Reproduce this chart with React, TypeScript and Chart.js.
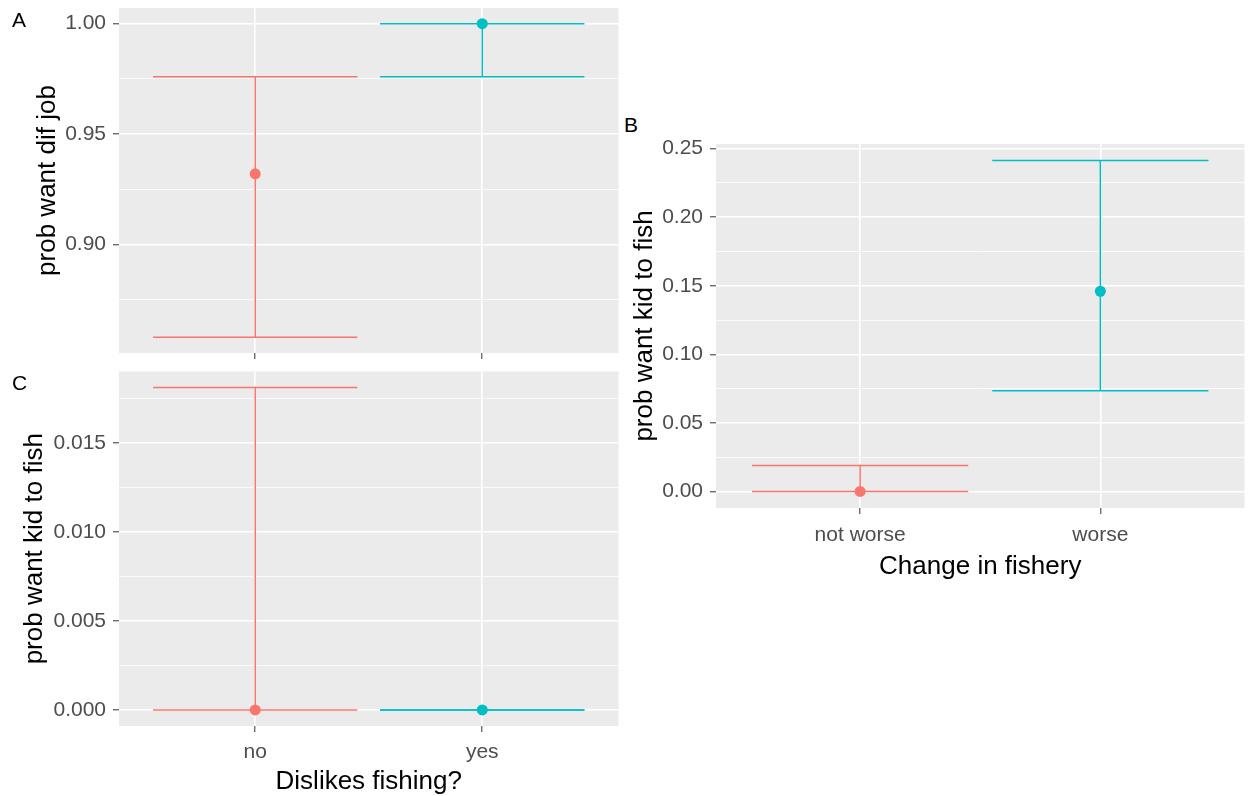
import React, { useEffect, useRef } from 'react';
import { Chart, registerables } from 'chart.js';

Chart.register(...registerables);

const RED = '#F8766D';
const TEAL = '#00BFC4';
const SERIES_COLORS = [RED, TEAL];

// ---------- Panel A : prob want dif job vs Dislikes fishing? ----------
const A_CATEGORIES = ['no', 'yes'];
const A_ESTIMATE = [0.932, 1.0];
const A_LOWER = [0.858, 0.976];
const A_UPPER = [0.976, 1.0];
const A_MAJOR_TICKS = [0.9, 0.95, 1.0];
const A_MINOR_TICKS = [0.875, 0.925, 0.975];
const A_TICK_LABELS = ['0.90', '0.95', '1.00'];

// ---------- Panel B : prob want kid to fish vs Change in fishery ----------
const B_CATEGORIES = ['not worse', 'worse'];
const B_ESTIMATE = [0.0, 0.146];
const B_LOWER = [0.0, 0.0735];
const B_UPPER = [0.0189, 0.2413];
const B_MAJOR_TICKS = [0.0, 0.05, 0.1, 0.15, 0.2, 0.25];
const B_MINOR_TICKS = [0.025, 0.075, 0.125, 0.175, 0.225];
const B_TICK_LABELS = ['0.00', '0.05', '0.10', '0.15', '0.20', '0.25'];

// ---------- Panel C : prob want kid to fish vs Dislikes fishing? ----------
const C_CATEGORIES = ['no', 'yes'];
const C_ESTIMATE = [0.0, 0.0];
const C_LOWER = [0.0, 0.0];
const C_UPPER = [0.0181, 0.0];
const C_MAJOR_TICKS = [0.0, 0.005, 0.01, 0.015];
const C_MINOR_TICKS = [0.0025, 0.0075, 0.0125, 0.0175];
const C_TICK_LABELS = ['0.000', '0.005', '0.010', '0.015'];

const FONT = "'Liberation Sans', Arial, sans-serif";
const TICK_SIZE = 21;
const TITLE_SIZE = 26;
const CAP_HALF = 0.45;
const X_EXPAND = 0.6;

const bgPlugin = {
  id: 'panelBg',
  beforeDraw(chart: any) {
    const { ctx, chartArea } = chart;
    if (!chartArea) return;
    ctx.save();
    ctx.fillStyle = '#EBEBEB';
    ctx.fillRect(chartArea.left, chartArea.top, chartArea.right - chartArea.left, chartArea.bottom - chartArea.top);
    ctx.restore();
  },
};

type PanelProps = {
  left: number;
  top: number;
  width: number;
  height: number;
  padTop: number;
  yAxisWidth: number;
  xAxisHeight: number;
  xLabelPad: number;
  categories: string[];
  estimate: number[];
  lower: number[];
  upper: number[];
  majorTicks: number[];
  minorTicks: number[];
  tickLabels: string[];
  yTitle: string;
  yTitlePad: number;
  xTitle?: string;
  xTitlePad?: number;
  showXLabels: boolean;
};

const near = (a: number, b: number) => Math.abs(a - b) < 1e-9;

function Panel(p: PanelProps) {
  const ref = useRef<HTMLCanvasElement | null>(null);
  useEffect(() => {
    if (!ref.current) return;
    const datasets: any[] = [];
    // points first so they are drawn on top
    p.categories.forEach((_, i) => {
      datasets.push({
        type: 'scatter',
        data: [{ x: i, y: p.estimate[i] }],
        pointRadius: 5.5,
        pointHoverRadius: 5.5,
        pointBorderWidth: 0,
        pointBackgroundColor: SERIES_COLORS[i],
        backgroundColor: SERIES_COLORS[i],
        borderColor: SERIES_COLORS[i],
        clip: false,
      });
    });
    p.categories.forEach((_, i) => {
      const seg = (data: any[]) => ({
        type: 'scatter',
        data,
        showLine: true,
        borderColor: SERIES_COLORS[i],
        borderWidth: 1.5,
        pointRadius: 0,
        pointHoverRadius: 0,
        fill: false,
        tension: 0,
        clip: false,
      });
      datasets.push(seg([{ x: i, y: p.lower[i] }, { x: i, y: p.upper[i] }]));
      datasets.push(seg([{ x: i - CAP_HALF, y: p.upper[i] }, { x: i + CAP_HALF, y: p.upper[i] }]));
      datasets.push(seg([{ x: i - CAP_HALF, y: p.lower[i] }, { x: i + CAP_HALF, y: p.lower[i] }]));
    });

    const lo = Math.min(...p.lower);
    const hi = Math.max(...p.upper);
    const r = hi - lo;
    const yMin = lo - 0.05 * r;
    const yMax = hi + 0.05 * r;
    const allY = [...p.majorTicks, ...p.minorTicks].sort((a, b) => a - b);
    const isMajor = (v: number) => p.majorTicks.some((m) => near(m, v));

    const chart = new Chart(ref.current, {
      type: 'scatter',
      data: { datasets },
      options: {
        animation: false,
        responsive: false,
        devicePixelRatio: 1,
        events: [],
        layout: { padding: { top: p.padTop, left: 0, right: 0, bottom: 0 } },
        plugins: { legend: { display: false }, tooltip: { enabled: false }, title: { display: false } },
        scales: {
          x: {
            type: 'linear',
            min: -X_EXPAND,
            max: p.categories.length - 1 + X_EXPAND,
            afterBuildTicks: (s: any) => {
              s.ticks = p.categories.map((_, i) => ({ value: i }));
            },
            afterFit: (s: any) => {
              s.height = p.xAxisHeight;
              s.paddingLeft = 0;
              s.paddingRight = 0;
              s.paddingTop = 0;
              s.paddingBottom = 0;
            },
            ticks: {
              autoSkip: false,
              maxRotation: 0,
              minRotation: 0,
              padding: p.xLabelPad,
              color: '#4D4D4D',
              font: { family: FONT, size: TICK_SIZE },
              callback: (v: any) => (p.showXLabels ? p.categories[Math.round(Number(v))] : ''),
            },
            grid: {
              color: '#FFFFFF',
              lineWidth: 1.6,
              drawTicks: true,
              tickLength: 6,
              tickColor: '#333333',
              tickWidth: 1,
            },
            border: { display: false },
            title: {
              display: !!p.xTitle,
              text: p.xTitle || '',
              color: '#000000',
              font: { family: FONT, size: TITLE_SIZE },
              padding: { top: 0, bottom: p.xTitlePad || 0 },
            },
          },
          y: {
            type: 'linear',
            min: yMin,
            max: yMax,
            afterBuildTicks: (s: any) => {
              s.ticks = allY.map((v) => ({ value: v }));
            },
            afterFit: (s: any) => {
              s.width = p.yAxisWidth;
              s.paddingTop = 0;
              s.paddingBottom = 0;
              s.paddingLeft = 0;
              s.paddingRight = 0;
            },
            ticks: {
              autoSkip: false,
              padding: 7,
              color: '#4D4D4D',
              font: { family: FONT, size: TICK_SIZE },
              callback: (v: any) => {
                const idx = p.majorTicks.findIndex((m) => near(m, Number(v)));
                return idx >= 0 ? p.tickLabels[idx] : '';
              },
            },
            grid: {
              color: '#FFFFFF',
              lineWidth: (ctx: any) => (ctx.tick && isMajor(ctx.tick.value) ? 1.6 : 0.8),
              drawTicks: true,
              tickLength: 6,
              tickColor: (ctx: any) => (ctx.tick && isMajor(ctx.tick.value) ? '#333333' : 'rgba(0,0,0,0)'),
              tickWidth: 1,
            },
            border: { display: false },
            title: {
              display: true,
              text: p.yTitle,
              color: '#000000',
              font: { family: FONT, size: TITLE_SIZE },
              padding: { top: p.yTitlePad, bottom: 0 },
            },
          },
        },
      } as any,
      plugins: [bgPlugin],
    });
    return () => chart.destroy();
  }, []);
  return (
    <canvas
      ref={ref}
      width={p.width}
      height={p.height}
      style={{ position: 'absolute', left: p.left, top: p.top, width: p.width, height: p.height }}
    />
  );
}

const letterStyle = (left: number, top: number): React.CSSProperties => ({
  position: 'absolute',
  left,
  top,
  fontFamily: FONT,
  fontSize: 21,
  lineHeight: '21px',
  color: '#000000',
});

export default function App() {
  return (
    <div style={{ position: 'absolute', left: 0, top: 0, width: 1248, height: 796, background: '#FFFFFF', overflow: 'hidden' }}>
      <Panel
        left={0}
        top={0}
        width={624}
        height={360}
        padTop={8}
        yAxisWidth={119}
        xAxisHeight={7}
        xLabelPad={6}
        categories={A_CATEGORIES}
        estimate={A_ESTIMATE}
        lower={A_LOWER}
        upper={A_UPPER}
        majorTicks={A_MAJOR_TICKS}
        minorTicks={A_MINOR_TICKS}
        tickLabels={A_TICK_LABELS}
        yTitle="prob want dif job"
        yTitlePad={32.4}
        showXLabels={false}
      />
      <Panel
        left={0}
        top={364}
        width={624}
        height={432}
        padTop={7.5}
        yAxisWidth={119}
        xAxisHeight={70}
        xLabelPad={8}
        categories={C_CATEGORIES}
        estimate={C_ESTIMATE}
        lower={C_LOWER}
        upper={C_UPPER}
        majorTicks={C_MAJOR_TICKS}
        minorTicks={C_MINOR_TICKS}
        tickLabels={C_TICK_LABELS}
        yTitle="prob want kid to fish"
        yTitlePad={19.4}
        xTitle="Dislikes fishing?"
        xTitlePad={-1.5}
        showXLabels={true}
      />
      <Panel
        left={600}
        top={136}
        width={650}
        height={446}
        padTop={8}
        yAxisWidth={116}
        xAxisHeight={74}
        xLabelPad={9}
        categories={B_CATEGORIES}
        estimate={B_ESTIMATE}
        lower={B_LOWER}
        upper={B_UPPER}
        majorTicks={B_MAJOR_TICKS}
        minorTicks={B_MINOR_TICKS}
        tickLabels={B_TICK_LABELS}
        yTitle="prob want kid to fish"
        yTitlePad={29.4}
        xTitle="Change in fishery"
        xTitlePad={-0.6}
        showXLabels={true}
      />
      <div style={letterStyle(12, 9)}>A</div>
      <div style={letterStyle(624, 114)}>B</div>
      <div style={letterStyle(12, 372)}>C</div>
    </div>
  );
}
